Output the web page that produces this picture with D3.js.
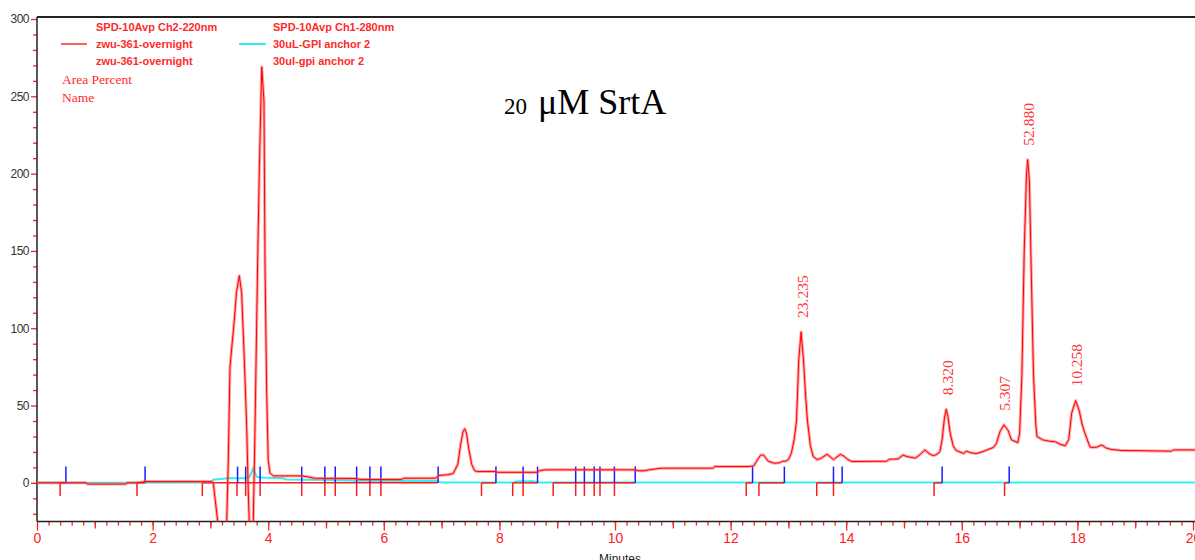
<!DOCTYPE html>
<html>
<head>
<meta charset="utf-8">
<script src="https://cdn.jsdelivr.net/npm/d3@7"></script>
<style>
  html, body { margin: 0; padding: 0; background: #fff; }
  svg { display: block; }
</style>
</head>
<body>
<svg id="chart" width="1195" height="560"></svg>
<script>
// SPD-10Avp Ch2-220nm, zwu-361-overnight : [minutes, mAU]
const trace220 = [
  [0.00, 0.0], [0.40, 0.0], [0.85, 0.0], [0.87, -0.8], [1.54, -0.8], [1.56, 0.0],
  [1.73, 0.0], [1.87, 0.8], [2.95, 0.8], [3.02, 0.8], [3.05, 0.0], [3.126, -25],
  [3.20, -70], [3.282, -25], [3.31, 15], [3.339, 75], [3.413, 105], [3.45, 123],
  [3.50, 134], [3.54, 123], [3.587, 79.5], [3.628, 36], [3.656, -6.7], [3.673, -25],
  [3.705, -60], [3.742, -25], [3.772, 36], [3.818, 144], [3.846, 202], [3.888, 269],
  [3.927, 247], [3.945, 140], [3.974, 58], [4.00, 15], [4.03, 6.3], [4.09, 4.5],
  [4.40, 4.5], [4.58, 4.5], [4.70, 3.8], [4.80, 3.0], [5.50, 2.8], [5.60, 2.2],
  [6.30, 2.2], [6.35, 3.0], [6.90, 3.0], [6.95, 4.8], [7.10, 5.2], [7.20, 6.0],
  [7.28, 12], [7.33, 25], [7.37, 33], [7.40, 35], [7.43, 32], [7.47, 22],
  [7.52, 12], [7.57, 8], [7.61, 7.3], [7.94, 7.3], [7.96, 6.8], [8.66, 6.8],
  [8.70, 8.0], [8.80, 8.4], [10.35, 8.4], [10.40, 7.8], [10.50, 7.8], [10.60, 8.5],
  [10.80, 9.5], [11.70, 9.5], [11.72, 10.5], [12.30, 10.5], [12.40, 11], [12.45, 14],
  [12.52, 18], [12.57, 18], [12.65, 14], [12.75, 12.7], [12.85, 13], [12.90, 14],
  [12.95, 14], [13.00, 15], [13.05, 19], [13.10, 28], [13.14, 40], [13.18, 80],
  [13.22, 97.6], [13.26, 80], [13.30, 55], [13.33, 40], [13.38, 24], [13.43, 17],
  [13.50, 15], [13.57, 16], [13.67, 18.5], [13.78, 15], [13.90, 18.5], [13.97, 17],
  [14.03, 15], [14.10, 13.8], [14.70, 14], [14.75, 15.3], [14.90, 15.5], [14.98, 18],
  [15.05, 17], [15.20, 16], [15.30, 19], [15.36, 21.3], [15.45, 18.5], [15.50, 17.7],
  [15.55, 18], [15.62, 20], [15.66, 28], [15.70, 42], [15.73, 47.6], [15.76, 43],
  [15.80, 32], [15.85, 24], [15.90, 21], [16.03, 19], [16.08, 20.5], [16.15, 19.5],
  [16.25, 19], [16.35, 20], [16.45, 21.5], [16.55, 23], [16.60, 25.6], [16.66, 33],
  [16.73, 37.5], [16.80, 34], [16.86, 27.8], [16.97, 26], [17.00, 32], [17.04, 70],
  [17.08, 150], [17.12, 200], [17.14, 209], [17.17, 195], [17.20, 140], [17.24, 70],
  [17.28, 38], [17.30, 30], [17.40, 27.8], [17.51, 27], [17.62, 26.5], [17.70, 25],
  [17.79, 24], [17.85, 28], [17.90, 45], [17.97, 53.2], [18.03, 47], [18.08, 38],
  [18.13, 32], [18.22, 23], [18.33, 23], [18.42, 24.5], [18.50, 22.5], [18.60, 21.5],
  [18.75, 21], [19.63, 20.5], [19.66, 21.3], [20.05, 21.3]
];

// SPD-10Avp Ch1-280nm, 30uL-GPI anchor 2 : [minutes, mAU]
const trace280 = [
  [0.00, 0.0], [3.00, 0.3], [3.05, 2.0], [3.30, 3.0], [3.60, 3.0], [3.68, 4.0],
  [3.74, 9.5], [3.80, 4.0], [3.86, 3.5], [4.26, 3.0], [4.30, 2.2], [5.00, 1.8],
  [5.60, 1.4], [6.90, 1.2], [7.00, 0.3], [8.25, 0.3], [8.30, 1.0], [8.60, 1.0],
  [8.65, 0.2], [20.05, 0.2]
];

// Integration marks (minutes)
const blueMarks = [0.50, 1.87, 3.47, 3.61, 3.86, 4.58, 4.98, 5.16, 5.53, 5.76, 5.95,
  6.94, 7.94, 8.41, 8.66, 9.32, 9.47, 9.64, 9.74, 9.99, 10.35, 12.38, 12.93, 13.78,
  13.93, 15.66, 16.82];
const redMarks = [0.40, 1.73, 2.86, 3.46, 3.61, 3.86, 4.58, 4.98, 5.16, 5.53, 5.76,
  5.95, 7.69, 8.23, 8.41, 8.93, 9.32, 9.47, 9.64, 9.74, 9.99, 12.27, 12.49, 13.49,
  13.78, 15.52, 16.74];
const baselineSegments = [[0.40, 0.50], [1.73, 1.87], [2.86, 6.94], [7.69, 7.94],
  [8.23, 8.66], [8.93, 10.35], [12.27, 12.38], [12.49, 12.93], [13.49, 13.93],
  [15.52, 15.66], [16.74, 16.82]];

// Area percent labels at the retention time of each peak apex
const peakTimes = [13.22, 15.73, 16.73, 17.14, 17.97];
const peakLabels = ["23.235", "8.320", "5.307", "52.880", "10.258"];

// Axis ticks
const yMajorTicks = [0, 50, 100, 150, 200, 250, 300];
const yMinorTicks = [-20, -10, 10, 20, 30, 40, 60, 70, 80, 90, 110, 120, 130, 140,
  160, 170, 180, 190, 210, 220, 230, 240, 260, 270, 280, 290];
const xMajorTicks = [0, 2, 4, 6, 8, 10, 12, 14, 16, 18, 20];
const xMidTicks = [1, 3, 5, 7, 9, 11, 13, 15, 17, 19];

const svg = d3.select("#chart");

const x = d3.scaleLinear().domain([0, 20]).range([37, 1193]);
const y = d3.scaleLinear().domain([-25, 300]).range([521.5, 19]);

const plotLeft = 37, plotRight = 1195, plotTop = 17, plotBottom = 521.5;

svg.append("defs").append("clipPath").attr("id", "plotClip")
  .append("rect").attr("x", plotLeft).attr("y", plotTop)
  .attr("width", plotRight - plotLeft).attr("height", plotBottom - plotTop);

// Y axis
const yMinorAxis = d3.axisLeft(y).tickValues(yMinorTicks).tickSize(4).tickFormat("");
const yMajorAxis = d3.axisLeft(y).tickValues(yMajorTicks).tickSize(6).tickPadding(2);
const gyMinor = svg.append("g").attr("transform", `translate(${plotLeft},0)`).call(yMinorAxis);
const gy = svg.append("g").attr("transform", `translate(${plotLeft},0)`).call(yMajorAxis);
[gyMinor, gy].forEach(g => {
  g.select(".domain").remove();
  g.selectAll(".tick line").attr("stroke", "#ff2020").attr("stroke-width", 1.3);
});
gy.selectAll(".tick text")
  .attr("fill", "#333").attr("font-family", "Liberation Sans, Arial, sans-serif")
  .attr("font-size", 12).attr("letter-spacing", "-0.5px");

// X axis
const xMinorAxis = d3.axisBottom(x).tickValues(d3.range(0.2, 20, 0.2)).tickSize(4).tickFormat("");
const xMidAxis = d3.axisBottom(x).tickValues(xMidTicks).tickSize(7).tickFormat("");
const xMajorAxis = d3.axisBottom(x).tickValues(xMajorTicks).tickSize(9).tickPadding(3)
  .tickFormat(d3.format("d"));
[xMinorAxis, xMidAxis, xMajorAxis].forEach(a => {
  const g = svg.append("g").attr("transform", `translate(0,${plotBottom})`).call(a);
  g.select(".domain").remove();
  g.selectAll(".tick line").attr("stroke", "#ff2020").attr("stroke-width", 1.3);
  g.selectAll(".tick text")
    .attr("fill", "#ff2020").attr("font-family", "Liberation Sans, Arial, sans-serif")
    .attr("font-size", 14);
});

svg.append("text").attr("x", 620).attr("y", 563).attr("text-anchor", "middle")
  .attr("font-family", "Liberation Sans, Arial, sans-serif").attr("font-size", 12)
  .attr("fill", "#222").text("Minutes");

// Frame
svg.append("line").attr("x1", plotLeft).attr("x2", plotRight).attr("y1", plotTop).attr("y2", plotTop)
  .attr("stroke", "#222").attr("stroke-width", 2);
svg.append("line").attr("x1", plotLeft).attr("x2", plotRight).attr("y1", plotBottom).attr("y2", plotBottom)
  .attr("stroke", "#222").attr("stroke-width", 1.5);
svg.append("line").attr("x1", plotLeft).attr("x2", plotLeft).attr("y1", plotTop).attr("y2", plotBottom)
  .attr("stroke", "#222").attr("stroke-width", 1.5);

const plot = svg.append("g").attr("clip-path", "url(#plotClip)");
const line = d3.line().x(d => x(d[0])).y(d => y(d[1]));

// 280 nm trace
plot.append("path").datum(trace280).attr("d", line)
  .attr("fill", "none").attr("stroke", "#33f0f0").attr("stroke-width", 2);

// Integration baselines and marks
plot.selectAll(".baseline").data(baselineSegments).join("line")
  .attr("x1", d => x(d[0])).attr("x2", d => x(d[1]))
  .attr("y1", y(0)).attr("y2", y(0))
  .attr("stroke", "#ff1a1a").attr("stroke-width", 1.5);
plot.selectAll(".redMark").data(redMarks).join("line")
  .attr("x1", d => x(d)).attr("x2", d => x(d))
  .attr("y1", y(0)).attr("y2", y(-8.5))
  .attr("stroke", "#ff1a1a").attr("stroke-width", 1.5);
plot.selectAll(".blueMark").data(blueMarks).join("line")
  .attr("x1", d => x(d)).attr("x2", d => x(d))
  .attr("y1", y(0)).attr("y2", y(10.5))
  .attr("stroke", "#1a1aff").attr("stroke-width", 1.5);

// 220 nm trace: soft halo under a thin core
plot.append("path").datum(trace220).attr("d", line)
  .attr("fill", "none").attr("stroke", "rgba(255,90,90,0.55)").attr("stroke-width", 3)
  .attr("stroke-linejoin", "round");
plot.append("path").datum(trace220).attr("d", line)
  .attr("fill", "none").attr("stroke", "#ff0000").attr("stroke-width", 1)
  .attr("stroke-linejoin", "round");

// Peak area labels
const apexValue = t => {
  const p = trace220.find(d => Math.abs(d[0] - t) < 1e-6);
  return p ? p[1] : 0;
};
svg.selectAll(".peakLabel").data(peakTimes).join("text")
  .attr("transform", (d) => `translate(${x(d) + 1},${y(apexValue(d)) - 14}) rotate(-90)`)
  .attr("dominant-baseline", "central")
  .attr("font-family", "Liberation Serif, Times New Roman, serif")
  .attr("font-size", 15.5).attr("fill", "#ff3a3a")
  .text((d, i) => peakLabels[i]);

// Legend
const legendFont = "Liberation Sans, Arial, sans-serif";
const legend = svg.append("g").attr("font-family", legendFont).attr("font-size", 11)
  .attr("font-weight", "bold").attr("fill", "#ff2a2a");
legend.append("text").attr("x", 96).attr("y", 31).text("SPD-10Avp Ch2-220nm");
legend.append("text").attr("x", 96).attr("y", 48).text("zwu-361-overnight");
legend.append("text").attr("x", 96).attr("y", 65).text("zwu-361-overnight");
legend.append("text").attr("x", 273).attr("y", 31).text("SPD-10Avp Ch1-280nm");
legend.append("text").attr("x", 273).attr("y", 48).text("30uL-GPI anchor 2");
legend.append("text").attr("x", 273).attr("y", 65).text("30ul-gpi anchor 2");
svg.append("line").attr("x1", 61).attr("x2", 87).attr("y1", 44).attr("y2", 44)
  .attr("stroke", "#ff2a2a").attr("stroke-width", 1.5);
svg.append("line").attr("x1", 239).attr("x2", 266).attr("y1", 44).attr("y2", 44)
  .attr("stroke", "#33f0f0").attr("stroke-width", 2);
svg.append("text").attr("x", 62).attr("y", 84)
  .attr("font-family", "Liberation Serif, Times New Roman, serif").attr("font-size", 13.5)
  .attr("fill", "#ff2a2a").text("Area Percent");
svg.append("text").attr("x", 62).attr("y", 102)
  .attr("font-family", "Liberation Serif, Times New Roman, serif").attr("font-size", 13.5)
  .attr("fill", "#ff2a2a").text("Name");

// Title
const titleFont = "Liberation Serif, Times New Roman, serif";
svg.append("text").attr("x", 504).attr("y", 114)
  .attr("font-family", titleFont).attr("font-size", 23).attr("fill", "#000").text("20");
svg.append("text").attr("x", 538).attr("y", 114)
  .attr("font-family", titleFont).attr("font-size", 36).attr("fill", "#000").text("μM SrtA");
</script>
</body>
</html>
